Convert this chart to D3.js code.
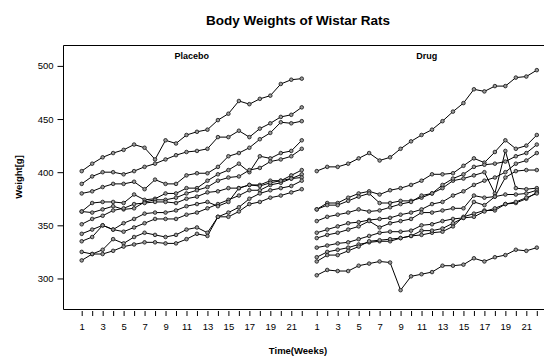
<!DOCTYPE html>
<html>
<head>
<meta charset="utf-8">
<script src="https://cdn.jsdelivr.net/npm/d3@7"></script>
<style>
  html, body { margin: 0; padding: 0; background: #fff; }
  text { font-family: "Liberation Sans", Arial, sans-serif; fill: #000; }
</style>
</head>
<body>
<svg id="chart" width="544" height="358"></svg>
<script>
// Weekly body weights (g), one array per rat, weeks 1..22
const weeks = d3.range(1, 23);
const groups = ["Placebo", "Drug"];

const placebo = [
  [401,408,414,418,421,426,423,412,430,427,435,438,440,449,455,467,464,469,472,483,487,488],
  [389,396,400,400,398,401,405,408,412,416,419,420,422,433,433,439,433,441,446,452,454,461],
  [380,382,386,389,389,391,384,393,389,389,397,399,399,405,415,418,423,431,437,447,446,448],
  [363,371,372,372,371,379,374,375,380,380,385,385,392,398,402,408,400,415,413,418,420,430],
  [363,362,365,368,365,366,372,374,374,376,380,383,386,392,395,396,402,404,410,412,415,422],
  [351,356,359,364,366,370,371,372,372,371,375,377,381,382,385,385,388,388,392,392,397,402],
  [342,346,350,346,344,348,352,356,356,356,360,362,366,370,374,378,383,383,388,390,394,398],
  [335,339,350,346,352,356,361,362,362,364,368,370,372,368,372,385,388,387,390,392,394,395],
  [325,323,327,337,333,339,343,341,339,341,346,348,343,358,362,367,375,380,383,385,387,392],
  [317,323,323,326,330,332,334,334,333,333,337,342,340,358,358,363,370,372,376,378,381,384]
];

const drug = [
  [401,405,405,408,413,418,411,414,422,429,435,440,448,457,465,478,476,481,481,489,490,496],
  [303,308,307,307,312,314,316,315,289,302,304,306,312,312,313,319,316,320,322,327,326,329],
  [365,371,371,376,380,382,379,383,385,388,392,398,398,399,406,413,409,419,430,422,425,435],
  [365,369,369,373,377,380,371,371,373,373,376,380,385,392,394,397,400,380,420,385,384,385],
  [354,358,360,362,365,363,364,367,370,372,378,380,388,394,398,405,407,408,410,415,418,426],
  [343,346,349,352,353,355,356,357,360,362,365,370,372,378,382,388,392,395,400,408,411,418],
  [338,341,343,346,349,354,348,352,354,356,362,362,364,366,366,378,376,377,395,401,402,402],
  [329,331,333,334,337,340,343,344,344,345,350,351,354,356,357,372,369,377,379,379,380,383],
  [320,325,327,329,332,334,335,335,338,340,341,343,344,349,358,361,364,364,370,371,375,381],
  [316,322,322,326,330,335,336,337,338,340,345,345,347,352,357,358,363,366,370,372,376,380]
];

const yTicks = [300, 350, 400, 450, 500];
const xTickLabels = [1, 3, 5, 7, 9, 11, 13, 15, 17, 19, 21];

// Both groups share one week axis; the second group is shifted right
const GROUP_SHIFT = 22.43;

const svg = d3.select("#chart");
const W = 544, H = 358;
const box = { left: 63.5, top: 45.5, right: 560, bottom: 309.5 };

const x = d3.scaleLinear().domain([1, 22 + GROUP_SHIFT]).range([81.7, 536.8]);
const y = d3.scaleLinear().domain([270.8, 519.2]).range([box.bottom, box.top]);

svg.append("rect").attr("width", W).attr("height", H).attr("fill", "#fff");

// Title
svg.append("text")
  .attr("x", 298).attr("y", 25)
  .attr("text-anchor", "middle")
  .style("font-size", "13.5px").style("font-weight", "bold")
  .text("Body Weights of Wistar Rats");

// Plot frame
svg.append("path")
  .attr("d", `M${box.right},${box.top}H${box.left}V${box.bottom}H${box.right}`)
  .attr("fill", "none").attr("stroke", "#000").attr("stroke-width", 1);

// Y axis
const yAxis = d3.axisLeft(y).tickValues(yTicks).tickSize(6).tickPadding(4);
const gy = svg.append("g").attr("transform", `translate(${box.left},0)`).call(yAxis);
gy.select(".domain").remove();
gy.selectAll("text").style("font-size", "9.5px").attr("fill", "#000");
gy.selectAll("line").attr("stroke", "#000");

svg.append("text")
  .attr("transform", `translate(22,177) rotate(-90)`)
  .attr("text-anchor", "middle")
  .style("font-size", "9.5px").style("font-weight", "bold")
  .text("Weight[g]");

// X axis: a tick at every week of each group, labels on odd weeks
const groupData = [placebo, drug];
groups.forEach((g, gi) => {
  const shift = gi === 0 ? 0 : GROUP_SHIFT;
  const ax = d3.axisBottom(x)
    .tickValues(weeks.map(w => w + shift))
    .tickSize(5).tickPadding(7)
    .tickFormat(v => {
      const w = Math.round(v - shift);
      return xTickLabels.includes(w) ? String(w) : "";
    });
  const gx = svg.append("g").attr("transform", `translate(0,${box.bottom + 1.5})`).call(ax);
  gx.select(".domain").remove();
  gx.selectAll("text").style("font-size", "9.5px").attr("fill", "#000");
  gx.selectAll("line").attr("stroke", "#000");

  // Group label
  svg.append("text")
    .attr("x", (x(1 + shift) + x(22 + shift)) / 2).attr("y", 59)
    .attr("text-anchor", "middle")
    .style("font-size", "9px").style("font-weight", "bold")
    .text(g);

  const line = d3.line().x((d, i) => x(weeks[i] + shift)).y(d => y(d));
  const gl = svg.append("g");
  groupData[gi].forEach(rat => {
    gl.append("path").attr("d", line(rat))
      .attr("fill", "none").attr("stroke", "#000").attr("stroke-width", 1);
  });
  groupData[gi].forEach(rat => {
    gl.selectAll(null).data(rat).enter().append("circle")
      .attr("cx", (d, i) => x(weeks[i] + shift))
      .attr("cy", d => y(d))
      .attr("r", 1.8)
      .attr("fill", "#9a9a9a").attr("stroke", "#111").attr("stroke-width", 0.8);
  });
});

svg.append("text")
  .attr("x", 298).attr("y", 354)
  .attr("text-anchor", "middle")
  .style("font-size", "9.5px").style("font-weight", "bold")
  .text("Time(Weeks)");
</script>
</body>
</html>
